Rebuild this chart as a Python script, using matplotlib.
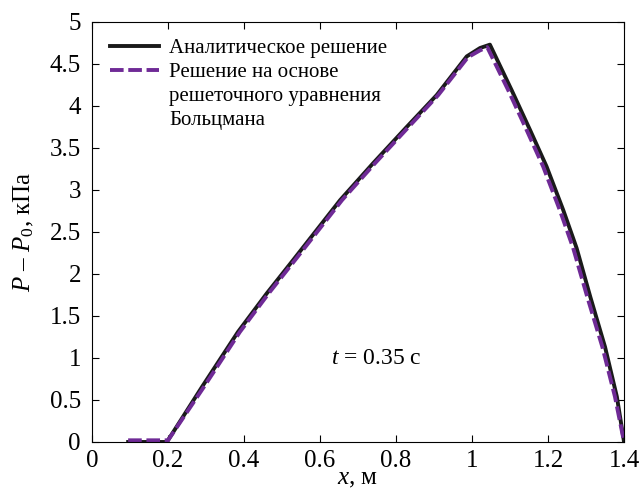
import matplotlib
matplotlib.use("Agg")
import matplotlib.pyplot as plt
from matplotlib.lines import Line2D

plt.rcParams["font.family"] = ["Liberation Serif", "DejaVu Serif"]
plt.rcParams["mathtext.fontset"] = "custom"
plt.rcParams["mathtext.rm"] = "Liberation Serif"
plt.rcParams["mathtext.it"] = "Liberation Serif:italic"

# analytic solution
x_exact = [0.095, 0.197, 0.29, 0.384, 0.46, 0.53, 0.653, 0.74, 0.828, 0.907, 0.986,
           1.021, 1.047, 1.104, 1.153, 1.196, 1.24, 1.275, 1.311, 1.35, 1.381, 1.40]
p_exact = [0.0, 0.0, 0.66, 1.31, 1.77, 2.17, 2.88, 3.32, 3.75, 4.13, 4.59,
           4.69, 4.73, 4.19, 3.71, 3.28, 2.76, 2.31, 1.73, 1.13, 0.54, 0.0]

# lattice Boltzmann solution
x_lbm = [0.095, 0.200, 0.295, 0.389, 0.465, 0.535, 0.658, 0.745, 0.833, 0.911, 0.989,
         1.020, 1.040, 1.095, 1.144, 1.187, 1.231, 1.266, 1.303, 1.343, 1.376, 1.40]
p_lbm = [0.02, 0.02, 0.66, 1.31, 1.77, 2.17, 2.88, 3.32, 3.75, 4.13, 4.58,
         4.66, 4.70, 4.19, 3.71, 3.28, 2.76, 2.31, 1.73, 1.13, 0.54, 0.0]

fig = plt.figure(figsize=(6.4, 4.95), dpi=100)
ax = fig.add_axes([0.1438, 0.1071, 0.8313, 0.8485])

exact_line, = ax.plot(x_exact, p_exact, color="#1a1a1a", lw=2.8)
lbm_line, = ax.plot(x_lbm, p_lbm, color="#6f2a96", lw=2.8, ls=(0, (3.5, 1.2)))

ax.set_xlim(0, 1.4)
ax.set_ylim(0, 5)
ax.set_xticks([0, 0.2, 0.4, 0.6, 0.8, 1, 1.2, 1.4])
ax.set_xticklabels(["0", "0.2", "0.4", "0.6", "0.8", "1", "1.2", "1.4"])
ax.set_yticks([0, 0.5, 1, 1.5, 2, 2.5, 3, 3.5, 4, 4.5, 5])
ax.set_yticklabels(["0", "0.5", "1", "1.5", "2", "2.5", "3", "3.5", "4", "4.5", "5"])
ax.tick_params(direction="in", top=True, right=True, labelsize=18, length=5, width=0.8)
ax.tick_params(axis="x", pad=6)
ax.tick_params(axis="y", pad=8)
for spine in ax.spines.values():
    spine.set_linewidth(0.8)

ax.set_xlabel("$x$, м", fontsize=18, labelpad=-3)
ax.set_ylabel("$P$ – $P_0$, кПа", fontsize=18, labelpad=10)

ax.text(0.749, 0.99, "$t$ = 0.35 с", fontsize=17, ha="center", va="center")

# the LBM label wraps over three rows, handle sits on the first one
blank = Line2D([], [], color="none")
ax.legend([exact_line, lbm_line, blank, blank],
          ["Аналитическое решение", "Решение на основе",
           "решеточного уравнения", "Больцмана"],
          loc="upper left", bbox_to_anchor=(0.034, 0.96), frameon=False,
          fontsize=15, handlelength=2.35, handletextpad=0.5,
          labelspacing=0.2, borderpad=0, borderaxespad=0)

fig.savefig("out.png", dpi=100)
